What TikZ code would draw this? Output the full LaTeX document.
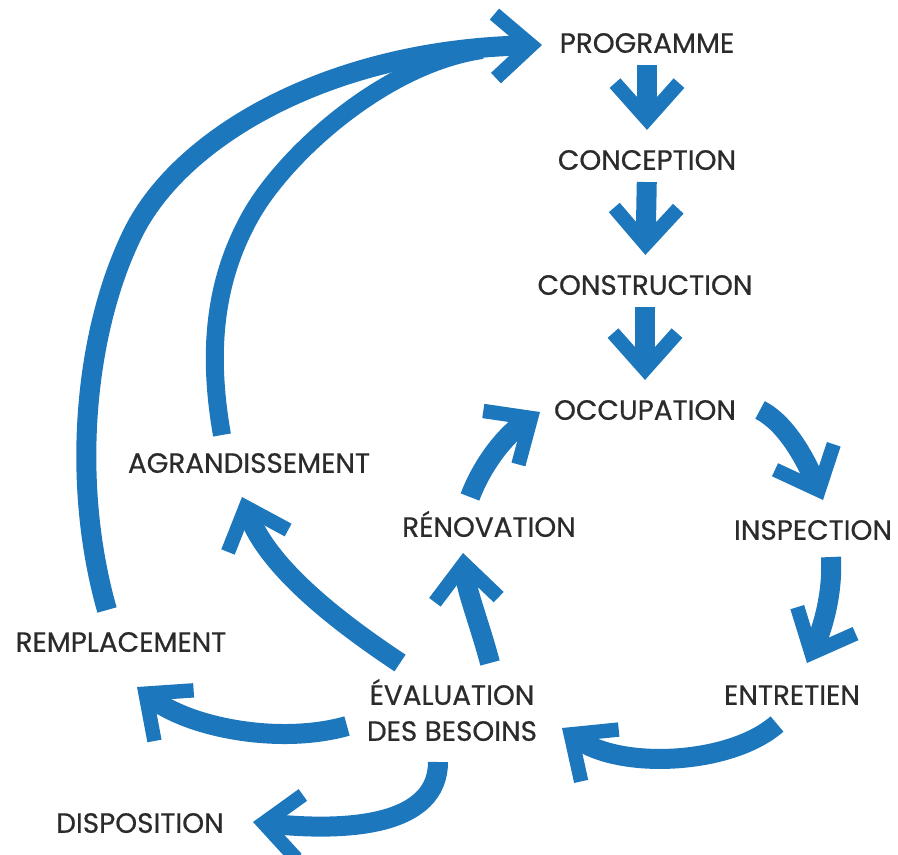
\documentclass[tikz,border=0pt]{standalone}
\usepackage{fontspec}
\setmainfont{Poppins}[FakeBold=0.6]
\usepackage{tikz}
\usetikzlibrary{arrows.meta}
\definecolor{flowblue}{HTML}{1D77BD}
\definecolor{ink}{HTML}{2B2B2B}
\newcommand\labfont{\fontsize{19.8}{25.6}\selectfont}
\tikzset{
  lab/.style={text=ink, inner sep=0pt, font=\labfont},
  word/.style={lab, text height=13.9pt, text depth=0pt},
  flow/.style={draw=flowblue, line width=5mm,
    -{Straight Barb[length=9mm, width=16mm, line width=3.6mm]}},
  vflow/.style={flow, shorten <=3mm, shorten >=5mm}
}

\begin{document}
\begin{tikzpicture}[x=0.25mm, y=-0.25mm]
  \useasboundingbox (0,0) rectangle (898,854);
  % stages
  \node[word] (prog)  at (647,43)  {PROGRAMME};
  \node[word] (conc)  at (647,160) {CONCEPTION};
  \node[word] (cons)  at (645,285) {CONSTRUCTION};
  \node[word] (occ)   at (645,410) {OCCUPATION};
  \node[word] (insp)  at (813,530) {INSPECTION};
  \node[word] (ent)   at (792,695) {ENTRETIEN};
  \node[word] (renov) at (489,527) {RÉNOVATION};
  \node[word] (agr)   at (249,463) {AGRANDISSEMENT};
  \node[word] (rempl) at (121,642) {REMPLACEMENT};
  \node[word] (disp)  at (140,823) {DISPOSITION};
  \node[lab, align=center] (eval) at (452,710) {ÉVALUATION\\DES BESOINS};
  % arrow ends
  \coordinate (occ-out)   at (760,410);
  \coordinate (insp-in)   at (823,500);
  \coordinate (insp-out)  at (831,557);
  \coordinate (ent-in)    at (807,663);
  \coordinate (ent-out)   at (777,724);
  \coordinate (eval-in)   at (562,728);
  \coordinate (eval-up)   at (490,663);
  \coordinate (renov-in)  at (463,553);
  \coordinate (renov-out) at (470,497);
  \coordinate (occ-in)    at (540,412);
  \coordinate (eval-ag)   at (400,663);
  \coordinate (agr-in)    at (242,497);
  \coordinate (eval-left) at (347,726);
  \coordinate (rempl-in)  at (137,687);
  \coordinate (eval-down) at (438,762);
  \coordinate (disp-in)   at (253,822);
  \coordinate (rempl-out) at (107,610);
  \coordinate (agr-out)   at (222,435);
  \coordinate (merge)     at (482,50);
  \coordinate (prog-in)   at (542,45);
  % straight down to occupation
  \draw[vflow] (prog.south) -- (conc.north);
  \draw[vflow] (conc.south) -- (cons.north);
  \draw[vflow] (cons.south) -- (occ.north);
  % the use loop
  \draw[flow] (occ-out) .. controls (790,425) and (810,470) .. (insp-in);
  \draw[flow] (insp-out) .. controls (833,595) and (822,630) .. (ent-in);
  \draw[flow] (ent-out) .. controls (730,765) and (620,770) .. (eval-in);
  \draw[flow] (eval-up) .. controls (480,625) and (466,590) .. (renov-in);
  \draw[flow] (renov-out) .. controls (482,465) and (505,435) .. (occ-in);
  % ways out of the evaluation
  \draw[flow] (eval-ag) .. controls (320,610) and (265,560) .. (agr-in);
  \draw[flow] (eval-left) .. controls (280,745) and (190,728) .. (rempl-in);
  \draw[flow] (eval-down) .. controls (438,825) and (350,832) .. (disp-in);
  % back to the programme, the inner one runs into the outer one
  \draw[draw=flowblue, line width=4.5mm] (agr-out) .. controls (207,350) and (215,280) .. (250,217)
    .. controls (285,154) and (385,64) .. (merge);
  \draw[flow] (rempl-out) .. controls (70,480) and (85,330) .. (133,233)
    .. controls (181,136) and (330,50) .. (prog-in);
\end{tikzpicture}
\end{document}
